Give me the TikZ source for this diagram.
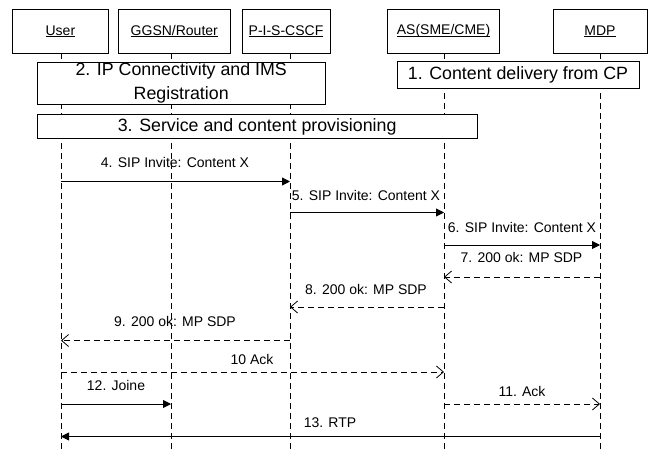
\documentclass[tikz,border=0pt]{standalone}
\usepackage{fontspec}
\setmainfont{Liberation Sans}
\usetikzlibrary{arrows.meta}
\newcommand{\ulx}[1]{\setbox0\hbox{#1}\rlap{\rule[-1.8pt]{\wd0}{0.8pt}}\box0}
\begin{document}
\begin{tikzpicture}[x=1pt,y=-1pt,
  hdr/.style={draw, line width=0.8pt, fill=white, inner sep=0pt, minimum height=44pt,
    font=\fontsize{14}{16}\selectfont},
  phase/.style={draw, line width=0.8pt, fill=white, inner sep=0pt,
    font=\fontsize{17.8}{23.5}\selectfont, align=center},
  life/.style={line width=0.7pt, dash pattern=on 6pt off 4pt},
  sync/.style={line width=0.9pt, -{Triangle[length=8pt,width=8pt]}},
  reply/.style={line width=0.8pt, dash pattern=on 6pt off 4pt, -{Straight Barb[length=7pt,width=12pt,line width=0.8pt]}},
  lbl/.style={anchor=base, inner sep=0pt, font=\fontsize{14}{16}\selectfont}
]
\useasboundingbox (0,0) rectangle (648,450);
\fill[white] (0,0) rectangle (648,450);

% lifeline coordinates
\foreach \n/\x in {U/61,G/171,P/290,A/444,M/600}{
  \coordinate (\n top) at (\x,53.3);
  \coordinate (\n bot) at (\x,450);
}
\foreach \n in {U,G,P,A,M}{ \draw[life] (\n top) -- (\n bot); }

% header boxes
\node[hdr, minimum width=95.3pt] (user) at (60.4,31.3) {\ulx{User}};
\node[hdr, minimum width=112.5pt] (ggsn) at (174.3,31.3) {\ulx{GGSN/Router}};
\node[hdr, minimum width=88pt] (pis) at (286,31.3) {\ulx{P-I-S-CSCF}};
\node[hdr, minimum width=112pt] (as) at (443.5,31.3) {\ulx{AS(SME/CME)}};
\node[hdr, minimum width=94pt] (mdp) at (600,31.3) {\ulx{MDP}};

% phase boxes
\node[phase, minimum width=242pt, minimum height=27pt] (b1) at (518,75) {1. Content delivery from CP};
\node[phase, minimum width=287.7pt, minimum height=42pt] (b2) at (181.2,83) {2. IP Connectivity and IMS\\Registration};
\node[phase, minimum width=439.7pt, minimum height=24pt] (b3) at (257.2,126.5) {3. Service and content provisioning};

% message endpoints
\foreach \k/\y in {4/181.5,5/212.5,6/245,7/277,8/307,9/340.5,10/372,11/404,12/404,13/436.5}{
  \foreach \n/\x in {U/61,G/171,P/290,A/444,M/600}{
    \coordinate (\n\k) at (\x,\y);
  }
}

\draw[sync] (U4) -- (P4);
\node[lbl] (t4) at (175,167.7) {4. SIP Invite: Content X};
\draw[sync] (P5) -- (A5);
\node[lbl] (t5) at (366,200) {5. SIP Invite: Content X};
\draw[sync] (A6) -- (M6);
\node[lbl] (t6) at (522,232) {6. SIP Invite: Content X};
\draw[reply] (M7) -- (A7);
\node[lbl] (t7) at (521.5,262) {7. 200 ok: MP SDP};
\draw[reply] (A8) -- (P8);
\node[lbl] (t8) at (366,294) {8. 200 ok: MP SDP};
\draw[reply] (P9) -- (U9);
\node[lbl] (t9) at (175,326.7) {9. 200 ok: MP SDP};
\draw[reply] (U10) -- (A10);
\node[lbl] (t10) at (252,364) {10 Ack};
\draw[sync] (U12) -- (G12);
\node[lbl] (t12) at (116,390.7) {12. Joine};
\draw[reply] (A11) -- (M11);
\node[lbl] (t11) at (522,396) {11. Ack};
\draw[sync] (M13) -- (U13);
\node[lbl] (t13) at (330,427.7) {13. RTP};
\end{tikzpicture}
\end{document}
